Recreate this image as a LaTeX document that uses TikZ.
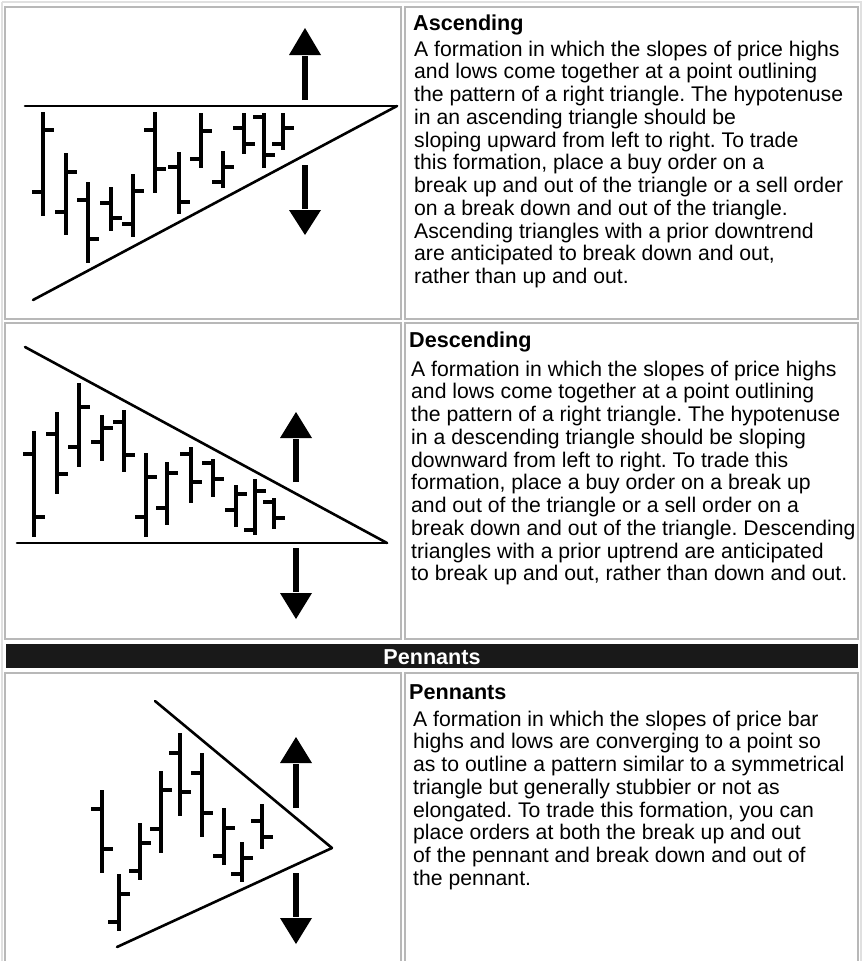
\documentclass[tikz,border=0pt]{standalone}
\usepackage{fontspec}
\setmainfont{Liberation Sans}
\frenchspacing
\tikzset{
  cell/.style={draw=black!28, line width=1.3pt},
  outerframe/.style={draw=black!12, line width=1.2pt},
  headbar/.style={fill=black!90},
  bar/.style={line width=4.2pt, line cap=butt},
  trend/.style={line width=2.6pt, line cap=round},
  shaft/.style={line width=6.5pt, line cap=butt},
  ahead/.style={fill=black},
  title/.style={inner sep=0pt, font=\fontsize{21.6}{24}\selectfont\bfseries},
  body/.style={inner sep=0pt, font=\fontsize{21.2}{22.75}\selectfont\frenchspacing},
  headtext/.style={inner sep=0pt, text=white, font=\fontsize{21.6}{24}\selectfont\bfseries},
}
\newcommand{\pricebar}[5]{%
  \draw[bar] (#1,#2) -- (#1,#3);
  \draw[bar] (#1-11,#4) -- (#1,#4);
  \draw[bar] (#1,#5) -- (#1+11,#5);
}
\newcommand{\ptUp}[4]{% x, tip, head base, shaft bottom
  \draw[shaft] (#1,#4) -- (#1,#3+1);
  \fill[ahead] (#1-16,#3) -- (#1+16,#3) -- (#1,#2) -- cycle;
}
\newcommand{\ptDown}[4]{% x, shaft top, head base, tip
  \draw[shaft] (#1,#2) -- (#1,#3-1);
  \fill[ahead] (#1-16,#3) -- (#1+16,#3) -- (#1,#4) -- cycle;
}
\begin{document}
\begin{tikzpicture}[x=1pt,y=-1pt]
\useasboundingbox (0,0) rectangle (862,961);
\fill[white] (0,0) rectangle (862,961);
% table frame and cells
\draw[outerframe] (2,2) -- (2,970);
\draw[outerframe] (2,2) -- (861,2) -- (861,970);
\draw[cell] (5,7) rectangle (401,319);
\draw[cell] (405,7) rectangle (858,319);
\draw[cell] (5,323) rectangle (401,639);
\draw[cell] (405,323) rectangle (858,639);
\fill[headbar] (6,644) rectangle (858,668);
\draw[cell] (5,673) rectangle (401,975);
\draw[cell] (405,673) rectangle (858,975);

% ---------- Ascending ----------
\draw[trend] (25,106) -- (397,106);
\draw[trend] (33,300) -- (397,106);
\ptUp{305}{28}{55}{100}
\ptDown{305}{165}{210}{235}
\pricebar{43}{112}{216}{192}{130}
\pricebar{66}{153}{235}{212}{172}
\pricebar{88}{182}{263}{200}{239}
\pricebar{111}{187}{231}{203}{218}
\pricebar{133}{174}{237}{224}{191}
\pricebar{155}{112}{193}{130}{169}
\pricebar{179}{152}{214}{167}{202}
\pricebar{201}{113}{168}{159}{131}
\pricebar{223}{151}{188}{182}{167}
\pricebar{244}{113}{154}{128}{144}
\pricebar{264}{113}{168}{117}{155}
\pricebar{283}{113}{150}{144}{128}

\node[title, anchor=base west] (tA) at (413,30) {Ascending};
\node[body, anchor=base west] (bA) at (414,56) {\parbox[t]{470pt}{\raggedright\frenchspacing
A formation in which the slopes of price highs\\
and lows come together at a point outlining\\
the pattern of a right triangle. The hypotenuse\\
in an ascending triangle should be\\
sloping upward from left to right. To trade\\
this formation, place a buy order on a\\
break up and out of the triangle or a sell order\\
on a break down and out of the triangle.\\
Ascending triangles with a prior downtrend\\
are anticipated to break down and out,\\
rather than up and out.}};

% ---------- Descending ----------
\draw[trend] (17,543) -- (387,543);
\draw[trend] (25,347) -- (387,543);
\ptUp{296}{412}{438}{482}
\ptDown{296}{548}{593}{619}
\pricebar{34}{431}{537}{454}{517}
\pricebar{57}{412}{494}{434}{474}
\pricebar{79}{383}{467}{447}{407}
\pricebar{102}{415}{461}{442}{428}
\pricebar{124}{410}{472}{422}{455}
\pricebar{146}{453}{537}{517}{477}
\pricebar{167}{462}{525}{508}{473}
\pricebar{191}{447}{503}{454}{482}
\pricebar{213}{459}{497}{463}{479}
\pricebar{236}{485}{527}{510}{494}
\pricebar{255}{479}{535}{530}{491}
\pricebar{274}{498}{529}{502}{518}

\node[title, anchor=base west] (tD) at (409,347) {Descending};
\node[body, anchor=base west] (bD) at (411,376) {\parbox[t]{470pt}{\raggedright\frenchspacing
A formation in which the slopes of price highs\\
and lows come together at a point outlining\\
the pattern of a right triangle. The hypotenuse\\
in a descending triangle should be sloping\\
downward from left to right. To trade this\\
formation, place a buy order on a break up\\
and out of the triangle or a sell order on a\\
break down and out of the triangle. Descending\\
triangles with a prior uptrend are anticipated\\
to break up and out, rather than down and out.}};

% ---------- Pennants header ----------
\node[headtext, anchor=base] (hP) at (432,664) {Pennants};

% ---------- Pennants ----------
\draw[trend] (155,701) -- (332,848);
\draw[trend] (117,947) -- (332,848);
\ptUp{296}{737}{763}{808}
\ptDown{296}{873}{918}{944}
\pricebar{102}{790}{873}{809}{849}
\pricebar{119}{874}{931}{922}{894}
\pricebar{140}{823}{880}{871}{843}
\pricebar{161}{771}{853}{829}{790}
\pricebar{180}{733}{816}{753}{792}
\pricebar{202}{753}{837}{773}{813}
\pricebar{224}{808}{865}{856}{828}
\pricebar{242}{842}{882}{874}{858}
\pricebar{262}{804}{849}{821}{837}

\node[title, anchor=base west] (tP) at (409,699) {Pennants};
\node[body, anchor=base west] (bP) at (413,726) {\parbox[t]{470pt}{\raggedright\frenchspacing
A formation in which the slopes of price bar\\
highs and lows are converging to a point so\\
as to outline a pattern similar to a symmetrical\\
triangle but generally stubbier or not as\\
elongated. To trade this formation, you can\\
place orders at both the break up and out\\
of the pennant and break down and out of\\
the pennant.}};
\end{tikzpicture}
\end{document}
